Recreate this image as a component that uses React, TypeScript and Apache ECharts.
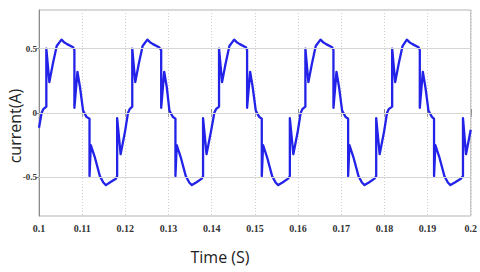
import React, { useEffect, useRef } from "react";
import * as echarts from "echarts";

// Time (s) of each sample, read cycle by cycle from the picture
const time: number[] = [
  0.1000, 0.1006, 0.1010, 0.1017, 0.1017, 0.1024, 0.1032, 0.1041, 0.1052, 0.1058, 0.1065, 0.1079, 0.1082, 0.1082, 0.1089, 0.1095, 0.1102, 0.1110, 0.1117, 0.1117, 0.1120, 0.1129, 0.1141, 0.1149, 0.1155, 0.1164, 0.1178, 0.1181, 0.1181, 0.1189, 0.1199,
  0.1206, 0.1210, 0.1216, 0.1216, 0.1223, 0.1231, 0.1240, 0.1251, 0.1257, 0.1264, 0.1278, 0.1283, 0.1283, 0.1290, 0.1296, 0.1302, 0.1310, 0.1316, 0.1316, 0.1319, 0.1328, 0.1340, 0.1348, 0.1354, 0.1364, 0.1377, 0.1380, 0.1380, 0.1388, 0.1398,
  0.1406, 0.1410, 0.1417, 0.1417, 0.1424, 0.1432, 0.1441, 0.1452, 0.1458, 0.1465, 0.1479, 0.1482, 0.1482, 0.1489, 0.1495, 0.1502, 0.1510, 0.1516, 0.1516, 0.1519, 0.1528, 0.1540, 0.1548, 0.1554, 0.1564, 0.1577, 0.1581, 0.1581, 0.1589, 0.1599,
  0.1606, 0.1610, 0.1617, 0.1617, 0.1624, 0.1632, 0.1641, 0.1652, 0.1658, 0.1665, 0.1679, 0.1682, 0.1682, 0.1689, 0.1695, 0.1702, 0.1710, 0.1716, 0.1716, 0.1719, 0.1728, 0.1740, 0.1748, 0.1754, 0.1764, 0.1777, 0.1781, 0.1781, 0.1789, 0.1799,
  0.1806, 0.1810, 0.1818, 0.1818, 0.1825, 0.1833, 0.1842, 0.1852, 0.1858, 0.1865, 0.1879, 0.1882, 0.1882, 0.1889, 0.1895, 0.1902, 0.1910, 0.1915, 0.1915, 0.1918, 0.1927, 0.1939, 0.1947, 0.1953, 0.1963, 0.1977, 0.1982, 0.1982, 0.1989, 0.2000,
];

// current (A) at each sample
const current: number[] = [
  -0.115, 0.00, 0.03, 0.05, 0.50, 0.24, 0.38, 0.52, 0.57, 0.55, 0.535, 0.51, 0.49, 0.04, 0.32, 0.20, 0.02, -0.03, -0.045, -0.49, -0.25, -0.34, -0.49, -0.54, -0.56, -0.54, -0.51, -0.49, -0.04, -0.32, -0.15,
  0.00, 0.03, 0.05, 0.50, 0.24, 0.38, 0.52, 0.57, 0.55, 0.535, 0.51, 0.49, 0.04, 0.32, 0.20, 0.02, -0.03, -0.045, -0.49, -0.25, -0.34, -0.49, -0.54, -0.56, -0.54, -0.51, -0.49, -0.04, -0.32, -0.15,
  0.00, 0.03, 0.05, 0.50, 0.24, 0.38, 0.52, 0.57, 0.55, 0.535, 0.51, 0.49, 0.04, 0.32, 0.20, 0.02, -0.03, -0.045, -0.49, -0.25, -0.34, -0.49, -0.54, -0.56, -0.54, -0.51, -0.49, -0.04, -0.32, -0.15,
  0.00, 0.03, 0.05, 0.50, 0.24, 0.38, 0.52, 0.57, 0.55, 0.535, 0.51, 0.49, 0.04, 0.32, 0.20, 0.02, -0.03, -0.045, -0.49, -0.25, -0.34, -0.49, -0.54, -0.56, -0.54, -0.51, -0.49, -0.04, -0.32, -0.15,
  0.00, 0.03, 0.05, 0.50, 0.24, 0.38, 0.52, 0.57, 0.55, 0.535, 0.51, 0.49, 0.04, 0.32, 0.20, 0.02, -0.03, -0.045, -0.49, -0.25, -0.34, -0.49, -0.54, -0.56, -0.54, -0.51, -0.49, -0.04, -0.32, -0.13,
];

const xTickValues: number[] = [0.1, 0.11, 0.12, 0.13, 0.14, 0.15, 0.16, 0.17, 0.18, 0.19, 0.2];
const xTickLabels: string[] = ["0.1", "0.11", "0.12", "0.13", "0.14", "0.15", "0.16", "0.17", "0.18", "0.19", "0.2"];
const yTickValues: number[] = [-0.5, 0, 0.5];
const yTickLabels: string[] = ["-0.5", "0", "0.5"];
const xName = "Time (S)";
const yName = "current(A)";

function labelFor(v: number, values: number[], labels: string[]): string {
  for (let i = 0; i < values.length; i++) {
    if (Math.abs(values[i] - v) < 1e-6) return labels[i];
  }
  return "";
}

export default function App() {
  const ref = useRef<HTMLDivElement>(null);
  useEffect(() => {
    if (!ref.current) return;
    const chart = echarts.init(ref.current, undefined, { renderer: "svg" });
    const points = time.map((t, i) => [t, current[i]]);
    const tickFont = {
      fontFamily: "Liberation Serif",
      fontWeight: "bold" as const,
      color: "#333",
    };
    chart.setOption({
      animation: false,
      backgroundColor: "#ffffff",
      grid: {
        left: 39,
        right: 8,
        top: 10,
        bottom: 56,
        show: true,
        borderColor: "#b4b4b4",
        borderWidth: 1,
        backgroundColor: "transparent",
      },
      xAxis: [
        {
          type: "value",
          min: 0.1,
          max: 0.2,
          interval: 0.01,
          axisLine: { show: true, lineStyle: { color: "#8c8c8c", width: 1 } },
          axisTick: { show: true, inside: true, length: 4, lineStyle: { color: "#8c8c8c" } },
          axisLabel: {
            ...tickFont,
            fontSize: 10,
            margin: 7,
            formatter: (v: number) => labelFor(v, xTickValues, xTickLabels),
          },
          splitLine: { show: true, lineStyle: { color: "#d0d0d0", type: [1, 2], width: 1 } },
        },
        {
          type: "value",
          position: "top",
          min: 0.1,
          max: 0.2,
          interval: 0.01,
          axisLine: { show: false },
          axisTick: { show: true, inside: true, length: 4, lineStyle: { color: "#a0a0a0" } },
          axisLabel: { show: false },
          splitLine: { show: false },
        },
      ],
      yAxis: [
        {
          type: "value",
          min: -0.8,
          max: 0.8,
          axisLine: { show: true, lineStyle: { color: "#8c8c8c", width: 1 } },
          axisTick: { show: true, inside: false, length: 3, customValues: yTickValues, lineStyle: { color: "#8c8c8c" } },
          axisLabel: {
            ...tickFont,
            fontSize: 9,
            margin: 2,
            customValues: yTickValues,
            formatter: (v: number) => labelFor(v, yTickValues, yTickLabels),
          },
          splitLine: { show: false },
        },
        {
          type: "value",
          position: "right",
          min: -0.8,
          max: 0.8,
          axisLine: { show: false },
          axisTick: { show: true, inside: true, length: 4, customValues: yTickValues, lineStyle: { color: "#a0a0a0" } },
          axisLabel: { show: false },
          splitLine: { show: false },
        },
      ],
      graphic: [
        {
          type: "text",
          x: 15,
          y: 126,
          rotation: Math.PI / 2,
          style: {
            text: yName,
            fontFamily: "Open Sans",
            fontSize: 16,
            fill: "#222",
            align: "center",
            verticalAlign: "middle",
          },
        },
        {
          type: "text",
          x: 220,
          y: 257,
          style: {
            text: xName,
            fontFamily: "Open Sans",
            fontSize: 16,
            fill: "#222",
            align: "center",
            verticalAlign: "middle",
          },
        },
      ],
      series: [
        {
          type: "line",
          data: points,
          xAxisIndex: 0,
          yAxisIndex: 0,
          showSymbol: false,
          symbol: "none",
          lineStyle: { color: "#2222e8", width: 2.3, join: "round" },
          markLine: {
            silent: true,
            symbol: "none",
            label: { show: false },
            lineStyle: { color: "#d6d6d6", type: "solid", width: 1 },
            data: yTickValues.map((v) => ({ yAxis: v })),
          },
          z: 3,
        },
      ],
    });
    return () => chart.dispose();
  }, []);
  return (
    <div
      ref={ref}
      style={{ position: "absolute", left: 0, top: 0, width: 480, height: 272 }}
    />
  );
}
